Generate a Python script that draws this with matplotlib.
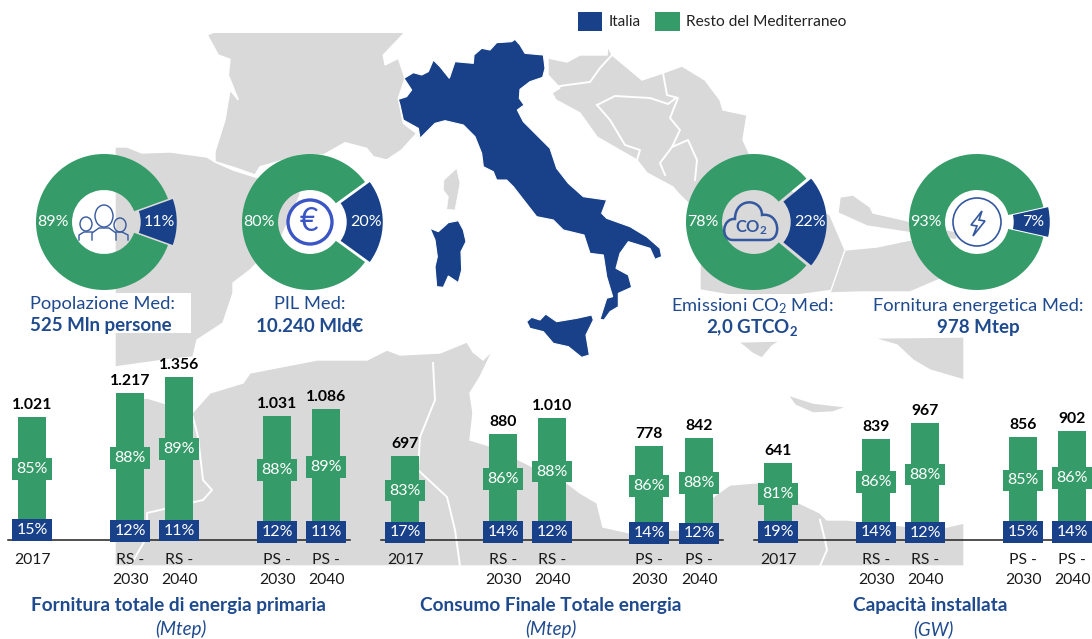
import matplotlib
matplotlib.use('Agg')
import matplotlib.pyplot as plt
from matplotlib.patches import Polygon, Rectangle, Circle, Ellipse, PathPatch
from matplotlib.path import Path

plt.rcParams['font.family'] = ['Lato', 'DejaVu Sans']
plt.rcParams['mathtext.default'] = 'regular'

BLUE = '#18418A'
GREEN = '#359B68'
GREY = '#D9D9D9'
TITLE = '#1F4A8E'
ICON = '#34589F'
W, H = 1092, 639
SCALE = 0.12  # pixel per unita sulle barre
BASE = 539.5

# dati barre
bar_labels = ['2017', 'RS -\n2030', 'RS -\n2040', 'PS -\n2030', 'PS -\n2040']
primary_tot = [1021, 1217, 1356, 1031, 1086]
primary_it = [15, 12, 11, 12, 11]
final_tot = [697, 880, 1010, 778, 842]
final_it = [17, 14, 12, 14, 12]
capacity_tot = [641, 839, 967, 856, 902]
capacity_it = [19, 14, 12, 15, 14]
primary_x = [32, 130, 179, 277, 326]
final_x = [405, 503, 552, 649, 699]
capacity_x = [778, 876, 925, 1023, 1072]

# dati ciambelle
donut_it = [11, 20, 22, 7]
donut_x = [104, 310, 754, 977]
donut_y = 222


def zoom_pts(pts, x0, y0):
    return [(x0 + a / 3, y0 + b / 3) for a, b in pts]


italy = [(55,298),(80,290),(95,270),(72,235),(100,218),(125,225),(145,215),(160,180),(180,200),(208,235),(225,185),(280,190),(282,165),(305,145),(330,150),(350,128),(395,125),(405,118),(420,135),(435,160),(490,165),(495,205),(488,232),(450,245),(420,268),(418,295),(432,315),(412,330),(430,365),(470,405),(510,445),(530,505),(565,550),(610,590),(680,600),(665,640),(680,655),(750,680),(800,710),(840,745),(845,770),(825,778),(810,745),(745,725),(720,760),(708,805),(745,825),(755,862),(715,880),(715,920),(690,935),(672,960),(660,958),(680,895),(698,890),(680,830),(670,765),(630,760),(612,705),(550,690),(520,660),(470,650),(400,560),(380,540),(350,540),(340,515),(310,500),(305,460),(285,410),(250,375),(195,362),(165,370),(120,415),(115,385),(70,360),(60,315)]
sardinia = [(150,685),(175,695),(205,668),(235,662),(250,690),(258,725),(243,755),(245,810),(235,848),(205,828),(190,862),(170,860),(165,800),(172,770),(165,720)]
sicily = [(440,965),(455,952),(480,960),(497,942),(530,965),(590,955),(635,945),(640,960),(618,1005),(628,1065),(605,1072),(565,1040),(520,1030),(490,995),(450,985)]
corsica = [(192,540),(230,505),(240,550),(225,630),(200,628),(205,590),(190,570)]
france = [(322,45),(340,37),(915,37),(850,105),(855,135),(895,115),(915,175),(895,235),(910,310),(950,340),(905,390),(860,420),(820,410),(800,385),(735,368),(670,405),(600,405),(510,432),(480,440),(465,465),(410,445),(345,425),(345,395),(375,300),(390,210),(415,240),(385,165),(390,118),(355,105)]
spain = [(115,147),(127,147),(142,153),(170,152),(207,157),(215,162),(233,170),(255,177),(300,186),(300,195),(280,240),(250,270),(233,283),(233,293),(223,323),(197,340),(193,357),(165,360),(115,367)]
africa = [(115,566),(115,540),(130,400),(147,398),(193,412),(210,393),(243,383),(250,373),(317,360),(367,360),(387,350),(400,355),(440,353),(467,342),(473,352),(483,360),(493,350),(480,377),(470,393),(473,413),(470,440),(493,447),(533,467),(567,483),(580,493),(597,503),(603,527),(630,533),(663,530),(687,530),(713,497),(730,485),(767,482),(793,500),(820,513),(827,520),(847,520),(913,527),(947,527),(964,523),(964,566)]
balkans = [(548,58),(567,62),(580,55),(607,55),(608,46),(612,55),(642,80),(663,73),(682,66),(705,80),(720,100),(723,110),(747,115),(743,140),(750,155),(790,200),(740,230),(700,215),(678,193),(673,187),(647,173),(637,160),(597,137),(580,113),(556,100),(552,93),(560,88),(548,75)]
greece = [(700,210),(760,170),(830,215),(845,250),(835,290),(760,300),(700,290)]
peloponnese = [(738,342),(780,341),(772,346),(762,358),(752,353),(745,347)]
turkey_n = [(840,197),(853,195),(870,207),(873,213),(957,232),(957,240),(867,226),(838,213)]
turkey_s = [(845,250),(877,247),(910,240),(957,246),(957,272),(910,292),(860,292),(830,293)]
east = [(873,338),(964,337),(964,380),(930,370),(913,360),(897,345)]
crete = [(788,395),(813,403),(847,407),(833,412),(813,413),(795,405)]

borders = [
    [(548,88),(567,85),(590,82),(600,68),(612,55)],
    [(597,105),(615,96),(650,98),(668,104),(676,98)],
    [(597,105),(610,120),(625,145),(640,150),(637,160)],
    [(663,73),(667,95),(678,98),(670,118),(680,130),(672,147),(688,140),(697,160),(695,180)],
    [(672,147),(660,163),(665,175)],
    [(193,417),(198,437),(203,480),(212,490),(203,500),(147,513),(147,537),(130,566)],
    [(433,363),(435,400),(420,437),(418,470),(447,497),(455,530),(460,566)],
    [(820,520),(825,540),(827,550),(820,566)],
]

fig = plt.figure(figsize=(W / 100, H / 100), dpi=100)

# sfondo mappa in pixel
ax_map = fig.add_axes([0, 0, 1, 1], zorder=0)
ax_map.set_xlim(0, W)
ax_map.set_ylim(H, 0)
ax_map.axis('off')

for pts in [spain, africa, balkans, greece, peloponnese, turkey_n, turkey_s, east, crete, zoom_pts(france, 100, 20)]:
    ax_map.add_patch(Polygon(pts, closed=True, fc=GREY, ec='white', lw=1))
ax_map.add_patch(Polygon(zoom_pts(corsica, 380, 0), closed=True, fc=GREY, ec='white', lw=0.5))
for line in borders:
    ax_map.plot([p[0] for p in line], [p[1] for p in line], color='white', lw=1.4)

# riquadri bianchi sotto i titoli
for x0, y0, x1, y1 in [(0, 293, 191, 333), (233, 293, 360, 333), (660, 294, 863, 340), (866, 294, W, 337)]:
    ax_map.add_patch(Rectangle((x0, y0), x1 - x0, y1 - y0, fc='white', ec='none', zorder=3))

for shape in [italy, sardinia, sicily]:
    ax_map.add_patch(Polygon(zoom_pts(shape, 380, 0), closed=True, fc=BLUE, ec='white', lw=0.8, zorder=4))

# barre: asse y in valori, zero sulla linea di base
ax_bar = fig.add_axes([0, 0, 1, 1], zorder=1)
ax_bar.set_xlim(0, W)
ax_bar.set_ylim((BASE - H) / SCALE, BASE / SCALE)
ax_bar.axis('off')
ax_bar.patch.set_alpha(0)

for tot, it, xs in [(primary_tot, primary_it, primary_x), (final_tot, final_it, final_x), (capacity_tot, capacity_it, capacity_x)]:
    ax_bar.plot([xs[0] - 24, xs[-1] + 24], [0, 0], color='#222222', lw=1.1, zorder=5)
    for x, t, p, lab in zip(xs, tot, it, bar_labels):
        low = t * p / 100
        high = t - low
        ax_bar.bar(x, low, width=28.5, color=BLUE, zorder=2)
        ax_bar.bar(x, high, width=28.5, bottom=low, color=GREEN, zorder=2)
        ax_bar.text(x, t + 100, f'{t:,}'.replace(',', '.'), ha='center', va='center', fontsize=11.3, fontweight='bold', color='black', zorder=7)
        ax_bar.text(x, low + high / 2, f'{100 - p}%', ha='center', va='center', fontsize=11.5, color='white', zorder=7,
                    bbox=dict(boxstyle='square,pad=0.24', fc=GREEN, ec='none'))
        ax_bar.text(x, low / 2, f'{p}%', ha='center', va='center', fontsize=11.5, color='white', zorder=7,
                    bbox=dict(boxstyle='square,pad=0.24', fc=BLUE, ec='none'))
        ax_bar.text(x, -(553 - BASE) / SCALE, lab, ha='center', va='top', fontsize=11.3, color='#1a1a1a', linespacing=1.5)

# ciambelle
PX = 80
for cx, it in zip(donut_x, donut_it):
    ax = fig.add_axes([(cx - PX) / W, 1 - (donut_y + PX) / H, 2 * PX / W, 2 * PX / H], zorder=2)
    ax.pie([it, 100 - it], colors=[BLUE, GREEN], startangle=-it * 1.8, radius=1, explode=(0.07, 0),
           wedgeprops=dict(width=0.53, edgecolor='none'))
    ax.set_xlim(-PX / 68, PX / 68)
    ax.set_ylim(-PX / 68, PX / 68)
    ax.patch.set_alpha(0)
    ax.text(-0.75, 0, f'{100 - it}%', ha='center', va='center', fontsize=11.5, color='white')
    ax.text(0.82, 0, f'{it}%', ha='center', va='center', fontsize=11.5, color='white')

# icone e testi in pixel
ax_top = fig.add_axes([0, 0, 1, 1], zorder=3)
ax_top.set_xlim(0, W)
ax_top.set_ylim(H, 0)
ax_top.axis('off')
ax_top.patch.set_alpha(0)

# persone
for hx, hy, rx, ry in [(104, 216, 18, 22), (86, 224, 12, 14), (120, 225, 12, 14)]:
    ax_top.add_patch(Ellipse((hx, hy), rx, ry, fc='none', ec=ICON, lw=1))
for xs_, ys_ in [([92, 92, 99, 109, 116, 116], [240, 233, 228, 228, 233, 240]),
                 ([79, 79, 84, 92], [240, 235, 232, 232]),
                 ([116, 122, 128, 128], [232, 232, 235, 240])]:
    ax_top.plot(xs_, ys_, color=ICON, lw=1)

# euro
ax_top.add_patch(Circle((310, 222), 22, fc='none', ec='#3A56C5', lw=2.4))
ax_top.text(309, 222, '€', ha='center', va='center', fontsize=23, color='#3A56C5')

# nuvola CO2
cloud = Path([(733, 240), (720, 240), (722, 218), (735, 219), (735, 197), (762, 198), (762, 215),
              (780, 212), (782, 240), (768, 240), (733, 240)],
             [Path.MOVETO, Path.CURVE4, Path.CURVE4, Path.CURVE4, Path.CURVE4, Path.CURVE4, Path.CURVE4,
              Path.CURVE4, Path.CURVE4, Path.CURVE4, Path.LINETO])
ax_top.add_patch(PathPatch(cloud, fc='none', ec=ICON, lw=1.8))
ax_top.text(751, 228, 'CO$_2$', ha='center', va='center', fontsize=12, fontweight='bold', color=ICON)

# energia
ax_top.add_patch(Circle((977, 222), 24, fc='none', ec=ICON, lw=1.2))
bolt = [(982, 211), (971, 225), (977, 226), (973, 236), (985, 221), (979, 220)]
ax_top.add_patch(Polygon(bolt, closed=True, fc='none', ec=ICON, lw=1.2))

for x, y, s in [(102, 304, 'Popolazione Med:'), (310, 304, 'PIL Med:'), (752, 306, 'Emissioni CO$_2$ Med:'), (978, 306, 'Fornitura energetica Med:')]:
    ax_top.text(x, y, s, ha='center', va='center', fontsize=13.2, color=TITLE)
for x, y, s in [(101, 326, '525 Mln persone'), (310, 326, '10.240 Mld€'), (752, 328, '2,0 GTCO$_2$'), (978, 328, '978 Mtep')]:
    ax_top.text(x, y, s, ha='center', va='center', fontsize=13.5, fontweight='bold', color=TITLE)

for x, s in [(178, 'Fornitura totale di energia primaria'), (551, 'Consumo Finale Totale energia'), (930, 'Capacità installata')]:
    ax_top.text(x, 606, s, ha='center', va='center', fontsize=13.7, fontweight='bold', color=TITLE)
for x, s in [(181, '(Mtep)'), (551, '(Mtep)'), (933, '(GW)')]:
    ax_top.text(x, 629, s, ha='center', va='center', fontsize=13.5, style='italic', color=TITLE)

# legenda
ax_top.add_patch(Rectangle((578, 12), 24, 19, fc=BLUE, ec='none'))
ax_top.add_patch(Rectangle((655, 12), 25, 19, fc=GREEN, ec='none'))
ax_top.text(609, 21.5, 'Italia', va='center', fontsize=11, color='#222222')
ax_top.text(686, 21.5, 'Resto del Mediterraneo', va='center', fontsize=11.2, color='#222222')

fig.savefig('out.png', dpi=100)
